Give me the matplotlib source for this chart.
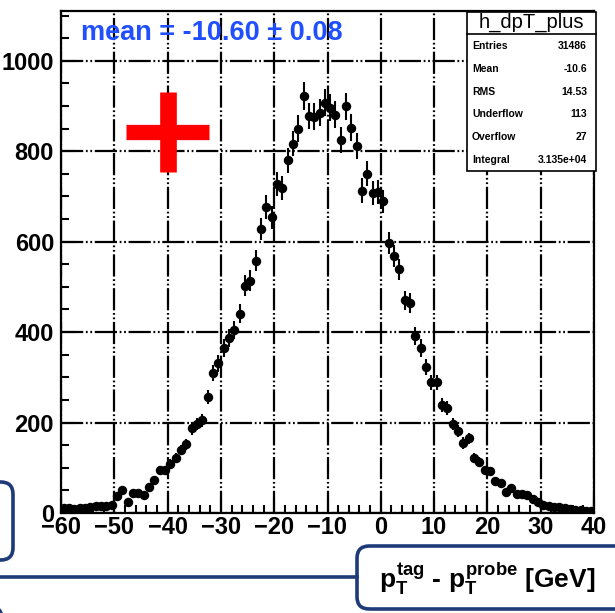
import matplotlib
matplotlib.use('Agg')
import matplotlib.pyplot as plt
import numpy as np
from matplotlib.ticker import MultipleLocator
from matplotlib.patches import FancyBboxPatch, Rectangle
from matplotlib.lines import Line2D

plt.rcParams['font.family'] = ['Liberation Sans', 'DejaVu Sans']
plt.rcParams['mathtext.fontset'] = 'custom'
plt.rcParams['mathtext.rm'] = 'Liberation Sans:bold'
plt.rcParams['mathtext.it'] = 'Liberation Sans:bold'
plt.rcParams['mathtext.bf'] = 'Liberation Sans:bold'

# ---------------- data ----------------
bin_edges_lo = -60
bin_edges_hi = 40
bin_centers = np.arange(-59.5, 40.0, 1.0)
counts = [
    12, 10, 9, 10, 11, 14, 15, 16, 16, 17,            # -60 .. -50
    37, 51, 25, 44, 44, 40, 58, 73, 94, 94,           # -50 .. -40
    108, 122, 139, 152, 187, 197, 205, 257, 309, 331, # -40 .. -30
    365, 387, 405, 441, 503, 514, 558, 628, 677, 654, # -30 .. -20
    727, 718, 780, 817, 850, 922, 878, 876, 885, 907, # -20 .. -10
    896, 881, 824, 899, 852, 811, 713, 750, 707, 710, # -10 .. 0
    689, 596, 568, 539, 470, 464, 391, 365, 323, 289, # 0 .. 10
    289, 239, 233, 197, 181, 155, 165, 122, 113, 95,  # 10 .. 20
    93, 71, 66, 47, 55, 42, 41, 40, 32, 25,           # 20 .. 30
    18, 15, 14, 14, 10, 8, 7, 7, 4, 4,                # 30 .. 40
]
errors = np.sqrt(counts)

x_ticks = [-60, -50, -40, -30, -20, -10, 0, 10, 20, 30, 40]
y_ticks = [0, 200, 400, 600, 800, 1000]

mean_text = "mean = -10.60 \u00b1 0.08"
hist_name = "h_dpT_plus"
stat_labels = ["Entries", "Mean", "RMS", "Underflow", "Overflow", "Integral"]
stat_values = ["31486", "-10.6", "14.53", "113", "27", "3.135e+04"]

cross_x = [-40.0]
cross_y = [843.0]
cross_xerr = [7.8]
cross_yerr = [89.0]

# ---------------- figure ----------------
W, H = 615, 613
fig = plt.figure(figsize=(W / 100, H / 100), dpi=100)
ax = fig.add_axes([61 / W, 1 - 513 / H, 533 / W, 502 / H])

ax.set_xlim(bin_edges_lo, bin_edges_hi)
ax.set_ylim(0, 1110)

grid_ls = (0, (10, 1.2, 0.8, 1.2, 0.8, 1.2))
ax.set_axisbelow(True)
ax.grid(True, which='major', color='black', lw=1.6, ls=grid_ls)

ax.errorbar(bin_centers, counts, yerr=errors, fmt='o', color='black',
            ms=5.8, elinewidth=1.5, capsize=0, zorder=3)

# red cross
for cx, cy, ex, ey in zip(cross_x, cross_y, cross_xerr, cross_yerr):
    ax.plot([cx - ex, cx + ex], [cy, cy], color='red', lw=11,
            solid_capstyle='butt', zorder=4)
    ax.plot([cx, cx], [cy - ey, cy + ey], color='red', lw=12,
            solid_capstyle='butt', zorder=4)

ax.set_xticks(x_ticks)
ax.set_yticks(y_ticks)
ax.xaxis.set_minor_locator(MultipleLocator(2))
ax.yaxis.set_minor_locator(MultipleLocator(50))
ax.tick_params(which='major', direction='in', length=11, width=1.5,
               labelsize=17, pad=2)
ax.tick_params(which='minor', direction='in', length=6, width=1.5)
ax.tick_params(axis='y', pad=5)
for lab in ax.get_xticklabels() + ax.get_yticklabels():
    lab.set_fontweight('bold')
for s in ax.spines.values():
    s.set_linewidth(1.6)

ax.set_xlabel(r'$p_{T}^{tag}$ - $p_{T}^{probe}$ [GeV]', fontsize=19,
              fontweight='bold', va='center')
ax.xaxis.set_label_coords(0.80, -0.13)

# blue mean text
fig.text(81 / W, 1 - 33 / H, mean_text, color='#1f4fff', fontsize=19.5,
         fontweight='bold', ha='left', va='center')

# stats box
bx0, bx1, by0, by1 = 466.7, 596, 11.7, 170.7
fig.patches.append(Rectangle((bx0 / W, 1 - by1 / H), (bx1 - bx0) / W,
                             (by1 - by0) / H, transform=fig.transFigure,
                             facecolor='white', edgecolor='black', lw=1.2,
                             zorder=5))
fig.lines.append(Line2D([bx0 / W, bx1 / W], [1 - 34 / H, 1 - 34 / H],
                        transform=fig.transFigure, color='black', lw=1.2,
                        zorder=6))
fig.text((bx0 + bx1) / 2 / W, 1 - 22.7 / H, hist_name, fontsize=14.5,
         ha='center', va='center', zorder=7)
row_y = [45.7, 69.3, 91.7, 114.3, 137.3, 160.0]
for lab, val, yy in zip(stat_labels, stat_values, row_y):
    fig.text(472 / W, 1 - yy / H, lab, fontsize=7.5, fontweight='bold',
             ha='left', va='center', zorder=7)
    fig.text(587 / W, 1 - yy / H, val, fontsize=7.5, fontweight='bold',
             ha='right', va='center', zorder=7)

# navy slide decorations
navy = '#1e3a78'
def rbox(x0, y0, x1, y1):
    p = FancyBboxPatch((x0 / W, 1 - y1 / H), (x1 - x0) / W, (y1 - y0) / H,
                       boxstyle='round,pad=0,rounding_size=0.02',
                       transform=fig.transFigure, facecolor='none',
                       edgecolor=navy, lw=2.6)
    fig.patches.append(p)

rbox(-40, 482, 13, 560)
rbox(357, 546, 660, 609)
rbox(-40, 608, 8, 700)
fig.lines.append(Line2D([0, 357 / W], [1 - 577 / H, 1 - 577 / H],
                        transform=fig.transFigure, color=navy, lw=2.6))

fig.savefig('out.png', dpi=100)
